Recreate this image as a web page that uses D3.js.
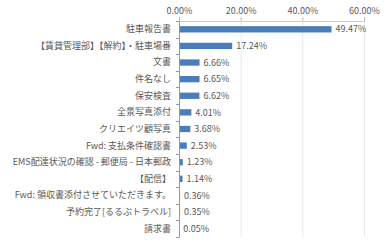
<!DOCTYPE html>
<html lang="ja">
<head>
<meta charset="utf-8">
<script src="https://d3js.org/d3.v7.min.js"></script>
<style>
    body { margin: 0; background: #fff; }
    svg text { font-family: "Noto Sans CJK JP", "Noto Sans", sans-serif; }
    .x-axis text { font-size: 9px; fill: #595959; }
</style>
</head>
<body>
<svg id="chart" width="390" height="246"></svg>
<script>
    var categories = ["駐車報告書", "【賃貸管理部】【解約】・駐車場番", "文書", "件名なし", "保安検査",
        "全景写真添付", "クリエイツ顧写真", "Fwd: 支払条件確認書", "EMS配達状況の確認 - 郵便局 - 日本郵政",
        "【配信】", "Fwd: 領収書添付させていただきます。", "予約完了[るるぶトラベル]", "請求書"];
    var values = [49.47, 17.24, 6.66, 6.65, 6.62, 4.01, 3.68, 2.53, 1.23, 1.14, 0.36, 0.35, 0.05];
    var tickValues = [0, 20, 40, 60];

    var svg = d3.select("#chart"),
        margin = {top: 21, right: 26, bottom: 9, left: 179},
        width = +svg.attr("width"),
        height = +svg.attr("height");

    var x = d3.scaleLinear()
        .domain([0, 60])
        .range([margin.left, width - margin.right]);

    var y = d3.scaleBand()
        .domain(categories)
        .range([margin.top, height - margin.bottom])
        .paddingInner(0.62)
        .paddingOuter(0.31);

    // grid
    svg.append("g")
        .selectAll("line")
        .data(tickValues.slice(1))
        .join("line")
        .attr("x1", d => x(d) + 0.5)
        .attr("x2", d => x(d) + 0.5)
        .attr("y1", margin.top)
        .attr("y2", height - margin.bottom)
        .style("stroke", "#e8e8e8");

    // top axis
    var xAxis = svg.append("g")
        .attr("class", "x-axis")
        .attr("transform", "translate(0," + margin.top + ")")
        .call(d3.axisTop(x).tickValues(tickValues).tickSize(4).tickPadding(3)
            .tickFormat(d => d.toFixed(2) + "%"));
    xAxis.select(".domain").style("stroke", "#ccc");
    xAxis.selectAll(".tick line").style("stroke", "#bbb");

    // bars
    svg.append("g")
        .selectAll("rect")
        .data(values)
        .join("rect")
        .attr("x", x(0))
        .attr("y", (d, i) => y(categories[i]))
        .attr("width", d => x(d) - x(0))
        .attr("height", y.bandwidth())
        .attr("fill", "#4a7ebb");

    // value labels
    svg.append("g")
        .selectAll("text")
        .data(values)
        .join("text")
        .attr("x", d => x(d) + 4)
        .attr("y", (d, i) => y(categories[i]) + y.bandwidth() / 2)
        .attr("dy", "0.35em")
        .style("font-size", "9px")
        .style("fill", "#595959")
        .text(d => d.toFixed(2) + "%");

    // left axis
    var yAxis = svg.append("g")
        .attr("transform", "translate(" + x(0) + ",0)")
        .call(d3.axisLeft(y).tickSize(0).tickPadding(8));
    yAxis.select(".domain").style("stroke", "#999");
    yAxis.selectAll("text").style("font-size", "9px").style("fill", "#595959");

    // small category boundary ticks
    svg.append("g")
        .selectAll("line")
        .data(d3.range(categories.length + 1))
        .join("line")
        .attr("x1", x(0) - 3)
        .attr("x2", x(0))
        .attr("y1", i => Math.round(margin.top + i * (height - margin.top - margin.bottom) / categories.length) + 0.5)
        .attr("y2", i => Math.round(margin.top + i * (height - margin.top - margin.bottom) / categories.length) + 0.5)
        .style("stroke", "#999");
</script>
</body>
</html>
